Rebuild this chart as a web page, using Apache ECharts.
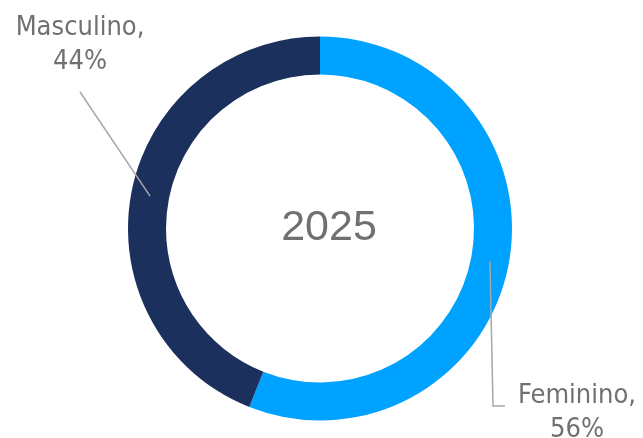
<!DOCTYPE html>
<html>
<head>
<meta charset="utf-8">
<style>
  html, body { margin: 0; padding: 0; background: #ffffff; }
  #chart { width: 643px; height: 438px; }
</style>
<script src="https://cdn.jsdelivr.net/npm/echarts@6/dist/echarts.min.js"></script>
</head>
<body>
<div id="chart"></div>
<script>
// Gender split for the year shown in the middle of the ring
const year = '2025';
const categories = ['Feminino', 'Masculino'];
const values = [56, 44];
const colors = ['#00A2FF', '#1B305C'];

const CX = 320, CY = 228.5, R_IN = 154, R_OUT = 192;
const R_MID = (R_IN + R_OUT) / 2;

// label anchors and elbow points for each slice's leader line
const labelPlace = [
  { x: 577, y: 412.5, bend: [[493, 406], [505, 406]] },
  { x: 80, y: 45, bend: [[80, 92], [80, 92]] }
];

const ringData = categories.map((name, i) => ({
  name,
  value: values[i],
  itemStyle: { color: colors[i] }
}));
const labelData = categories.map((name, i) => ({
  name,
  value: values[i],
  itemStyle: { color: 'rgba(0,0,0,0)' }
}));

const chart = echarts.init(document.getElementById('chart'), null, { renderer: 'canvas' });

chart.setOption({
  animation: false,
  graphic: [{
    type: 'text',
    x: 329, y: 228,
    z: 100,
    style: {
      text: year,
      font: '43px "Liberation Sans", Arial, sans-serif',
      fill: '#707070',
      align: 'center',
      verticalAlign: 'middle'
    }
  }],
  series: [
    // the coloured ring
    {
      type: 'pie',
      z: 2,
      center: [CX, CY],
      radius: [R_IN, R_OUT],
      startAngle: 90,
      clockwise: true,
      data: ringData,
      label: { show: false },
      labelLine: { show: false },
      emphasis: { disabled: true }
    },
    // transparent twin on top that carries the labels, so leader lines sit over the ring
    {
      type: 'pie',
      z: 5,
      center: [CX, CY],
      radius: [R_IN, R_OUT],
      startAngle: 90,
      clockwise: true,
      silent: true,
      avoidLabelOverlap: false,
      data: labelData,
      label: {
        show: true,
        formatter: '{b},\n{d}%',
        fontFamily: '"DejaVu Sans Condensed", "Liberation Sans Narrow", "DejaVu Sans", sans-serif',
        fontSize: 27,
        lineHeight: 34,
        color: '#707070',
        align: 'center'
      },
      labelLine: {
        show: true,
        lineStyle: { color: '#A6A6A6', width: 1.5 }
      },
      emphasis: { disabled: true },
      labelLayout: function (params) {
        const p = labelPlace[params.dataIndex];
        const p0 = params.labelLinePoints ? params.labelLinePoints[0] : [CX, CY];
        const dx = p0[0] - CX, dy = p0[1] - CY;
        const len = Math.sqrt(dx * dx + dy * dy) || 1;
        const start = [CX + dx / len * R_MID, CY + dy / len * R_MID];
        return {
          x: p.x,
          y: p.y,
          align: 'center',
          verticalAlign: 'middle',
          labelLinePoints: [start, p.bend[0], p.bend[1]]
        };
      }
    }
  ]
});
</script>
</body>
</html>
